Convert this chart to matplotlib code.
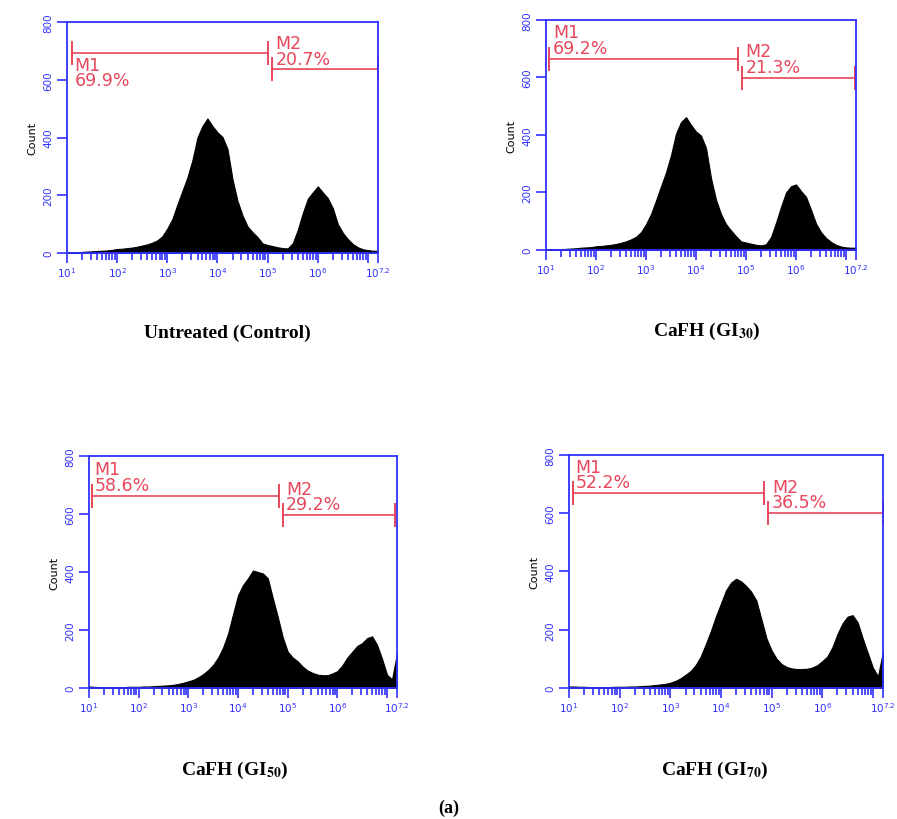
import numpy as np
import matplotlib.pyplot as plt

# log10 channel positions of the histogram samples (10^1 .. 10^7.2)
log_channels = np.round(np.arange(1.0, 7.25, 0.1), 1)

counts_control = [3, 3, 3, 4, 5, 6, 7, 8, 9, 11,
                  14, 15, 17, 19, 22, 26, 30, 36, 44, 58,
                  85, 118, 168, 215, 262, 322, 400, 440, 466, 440,
                  418, 402, 360, 255, 180, 130, 92, 72, 55, 33,
                  28, 24, 20, 17, 16, 34, 80, 138, 188, 210,
                  231, 210, 190, 155, 100, 70, 48, 31, 20, 13,
                  10, 8, 8]
counts_gi30 = [3, 2, 2, 3, 4, 5, 6, 8, 9, 10,
               13, 14, 16, 18, 21, 25, 30, 37, 46, 62,
               90, 125, 172, 222, 270, 330, 405, 445, 462, 435,
               412, 398, 355, 250, 175, 125, 90, 68, 48, 30,
               26, 22, 18, 16, 20, 45, 95, 150, 200, 222,
               228, 205, 185, 140, 92, 62, 42, 28, 18, 12,
               9, 8, 8]
counts_gi50 = [5, 4, 3, 3, 2, 3, 3, 3, 4, 4,
               4, 5, 5, 6, 7, 8, 9, 11, 14, 18,
               23, 28, 37, 48, 62, 80, 105, 140, 188, 255,
               320, 355, 378, 405, 400, 395, 378, 310, 245, 175,
               125, 105, 92, 74, 60, 52, 46, 44, 44, 50,
               58, 78, 105, 125, 145, 155, 172, 178, 148, 100,
               45, 30, 120]
counts_gi70 = [5, 5, 4, 4, 3, 3, 3, 3, 3, 4,
               4, 4, 5, 5, 6, 7, 8, 10, 12, 14,
               18, 24, 33, 45, 58, 78, 108, 150, 195, 245,
               290, 335, 362, 375, 366, 350, 330, 300, 235, 170,
               129, 100, 82, 72, 67, 65, 65, 66, 70, 78,
               92, 108, 140, 185, 222, 245, 250, 225, 170, 120,
               70, 40, 125]

titles = ['Untreated (Control)', r'CaFH (GI$_\mathbf{30}$)',
          r'CaFH (GI$_\mathbf{50}$)', r'CaFH (GI$_\mathbf{70}$)']
all_counts = [counts_control, counts_gi30, counts_gi50, counts_gi70]

# markers: (start, end, level) in log10 channel / count units
m1_gates = [(1.09, 5.0, 692), (1.05, 4.84, 665), (1.06, 4.83, 662), (1.07, 4.86, 669)]
m2_gates = [(5.08, 7.2, 636), (4.91, 7.17, 598), (4.90, 7.16, 596), (4.93, 7.2, 600)]
m1_pct = ['69.9%', '69.2%', '58.6%', '52.2%']
m2_pct = ['20.7%', '21.3%', '29.2%', '36.5%']
m1_text_x = [1.15, 1.14, 1.11, 1.13]
m2_text_x = [5.16, 4.99, 4.97, 5.01]

xtick_exp = [1, 2, 3, 4, 5, 6, 7, 7.2]
xtick_labels = ['$10^{1}$', '$10^{2}$', '$10^{3}$', '$10^{4}$', '$10^{5}$',
                '$10^{6}$', '', '$10^{7.2}$']
yticks = [0, 200, 400, 600, 800]

BLUE = '#3030ff'
RED = '#e8465a'

fig = plt.figure(figsize=(8.97, 8.20), dpi=100)
positions = [[0.0747, 0.6902, 0.3467, 0.2817],
             [0.6087, 0.6939, 0.3456, 0.2805],
             [0.0992, 0.1598, 0.3434, 0.2829],
             [0.6343, 0.1598, 0.3501, 0.2841]]
caption_xy = [(0.253, 0.594), (0.788, 0.596), (0.262, 0.061), (0.797, 0.061)]


def draw_gate(ax, start, end, level, half=38):
    ax.plot([10**start, 10**end], [level, level], color=RED, lw=1.2, clip_on=False)
    for x in (start, end):
        ax.plot([10**x, 10**x], [level - half, level + half], color=RED, lw=1.4,
                clip_on=False)


for i in range(4):
    ax = fig.add_axes(positions[i])
    ax.fill_between(10**log_channels, all_counts[i], color='black', lw=0.8,
                    edgecolor='black')
    ax.set_xscale('log')
    ax.set_xlim(10, 10**7.2)
    ax.set_ylim(0, 800)

    ax.set_xticks([10**e for e in xtick_exp])
    ax.set_xticklabels(xtick_labels, fontsize=7.5, color=BLUE)
    ax.set_yticks(yticks)
    ax.set_yticklabels([str(v) for v in yticks], fontsize=7.5, color=BLUE,
                       rotation=90, va='center')
    ax.tick_params(axis='both', which='major', colors=BLUE, length=7, width=1.2,
                   labelcolor=BLUE)
    ax.tick_params(axis='x', which='minor', colors=BLUE, length=5, width=1.2)
    ax.tick_params(axis='x', pad=2)
    ax.tick_params(axis='y', pad=3)
    for sp in ax.spines.values():
        sp.set_color(BLUE)
        sp.set_linewidth(1.3)
    ax.set_ylabel('Count', fontsize=8, labelpad=4)

    s, e, lv = m1_gates[i]
    draw_gate(ax, s, e, lv)
    s2, e2, lv2 = m2_gates[i]
    draw_gate(ax, s2, e2, lv2)

    if i == 0:
        ax.text(10**m1_text_x[i], lv - 8, 'M1\n' + m1_pct[i], color=RED,
                fontsize=12.5, va='top', ha='left', linespacing=0.85)
    else:
        ax.text(10**m1_text_x[i], lv + 6, 'M1\n' + m1_pct[i], color=RED,
                fontsize=12.5, va='bottom', ha='left', linespacing=0.85)
    ax.text(10**m2_text_x[i], lv2 + 6, 'M2\n' + m2_pct[i], color=RED,
            fontsize=12.5, va='bottom', ha='left', linespacing=0.85)

    fig.text(caption_xy[i][0], caption_xy[i][1], titles[i], ha='center', va='center',
             family='Liberation Serif', weight='bold', fontsize=14,
             math_fontfamily='stix')

fig.text(0.5, 0.0146, '(a)', ha='center', va='center', family='Liberation Serif',
         weight='bold', fontsize=13)

fig.savefig('out.png', dpi=100)
